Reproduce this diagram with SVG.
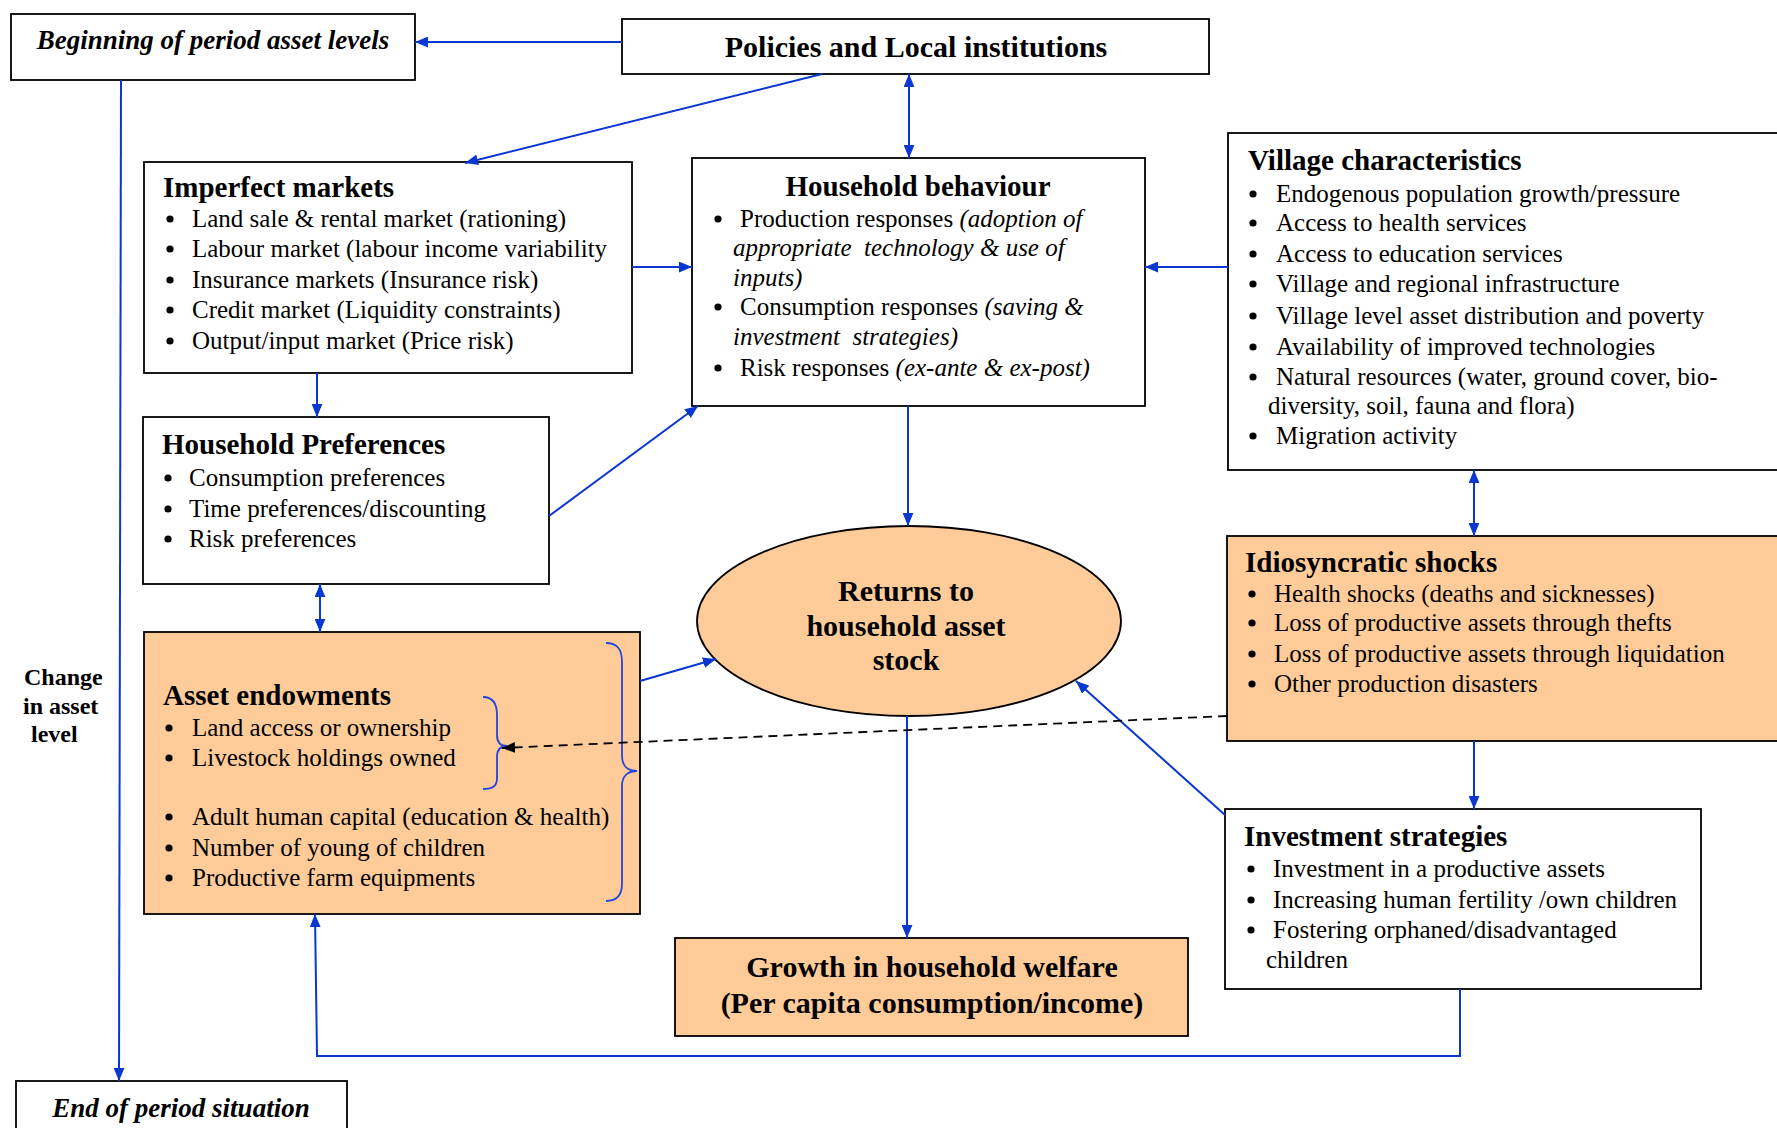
<svg xmlns="http://www.w3.org/2000/svg" width="1777" height="1128" viewBox="0 0 1777 1128">
<style>
.box{fill:#fff;stroke:#000;stroke-width:1.8}
.peach{fill:#FFCC99;stroke:#000;stroke-width:1.8}
.t{font-family:"Liberation Serif","Times New Roman",serif;font-size:25px;fill:#000}
.h{font-family:"Liberation Serif","Times New Roman",serif;font-size:29px;font-weight:bold;fill:#000}
.h30{font-size:30px}
.bi{font-family:"Liberation Serif","Times New Roman",serif;font-size:27px;font-weight:bold;font-style:italic;fill:#000}
.i{font-style:italic}
.pre{white-space:pre}
.d{fill:#000}
.c{stroke:#0A36D2;stroke-width:2;fill:none}
.brace{stroke:#1F46E0;stroke-width:1.8;fill:none}
</style>
<defs>
<marker id="a" viewBox="0 0 12 10" refX="12" refY="5" markerWidth="13" markerHeight="11" markerUnits="userSpaceOnUse" orient="auto-start-reverse">
<path d="M0,0 L12,5 L0,10 z" fill="#0A36D2"/>
</marker>
<marker id="k" viewBox="0 0 12 10" refX="12" refY="5" markerWidth="13" markerHeight="11" markerUnits="userSpaceOnUse" orient="auto">
<path d="M0,0 L12,5 L0,10 z" fill="#000"/>
</marker>
</defs>
<rect width="1777" height="1128" fill="#fff"/>

<g id="beginning">
<rect class="box" x="11" y="14" width="404" height="66"/>
<text class="bi" x="213" y="49" text-anchor="middle">Beginning of period asset levels</text>
</g>

<g id="policies">
<rect class="box" x="622" y="19" width="587" height="55"/>
<text class="h h30" x="916" y="57" text-anchor="middle">Policies and Local institutions</text>
</g>

<g id="imperfect-markets">
<rect class="box" x="144" y="162" width="488" height="211"/>
<text class="h" x="163" y="197">Imperfect markets</text>
<g class="d"><circle cx="170" cy="219" r="3.6"/><circle cx="170" cy="249" r="3.6"/><circle cx="170" cy="280" r="3.6"/><circle cx="170" cy="310" r="3.6"/><circle cx="170" cy="341" r="3.6"/></g>
<text class="t" x="192" y="227">Land sale &amp; rental market (rationing)</text>
<text class="t" x="192" y="257">Labour market (labour income variability</text>
<text class="t" x="192" y="288">Insurance markets (Insurance risk)</text>
<text class="t" x="192" y="318">Credit market (Liquidity constraints)</text>
<text class="t" x="192" y="349">Output/input market (Price risk)</text>
</g>

<g id="household-behaviour">
<rect class="box" x="692" y="158" width="453" height="248"/>
<text class="h" x="918" y="196" text-anchor="middle">Household behaviour</text>
<g class="d"><circle cx="718" cy="219" r="3.6"/><circle cx="718" cy="307" r="3.6"/><circle cx="718" cy="368" r="3.6"/></g>
<text class="t" x="740" y="227">Production responses <tspan class="i">(adoption of</tspan></text>
<text class="t i pre" x="733" y="256" xml:space="preserve">appropriate  technology &amp; use of</text>
<text class="t i" x="733" y="286">inputs)</text>
<text class="t" x="740" y="315">Consumption responses <tspan class="i">(saving &amp;</tspan></text>
<text class="t i pre" x="733" y="345" xml:space="preserve">investment  strategies)</text>
<text class="t" x="740" y="376">Risk responses <tspan class="i">(ex-ante &amp; ex-post)</tspan></text>
</g>

<g id="village-characteristics">
<rect class="box" x="1228" y="133" width="570" height="337"/>
<text class="h" x="1248" y="170">Village characteristics</text>
<g class="d"><circle cx="1253" cy="194" r="3.6"/><circle cx="1253" cy="223" r="3.6"/><circle cx="1253" cy="254" r="3.6"/><circle cx="1253" cy="284" r="3.6"/><circle cx="1253" cy="316" r="3.6"/><circle cx="1253" cy="347" r="3.6"/><circle cx="1253" cy="377" r="3.6"/><circle cx="1253" cy="436" r="3.6"/></g>
<text class="t" x="1276" y="202">Endogenous population growth/pressure</text>
<text class="t" x="1276" y="231">Access to health services</text>
<text class="t" x="1276" y="262">Access to education services</text>
<text class="t" x="1276" y="292">Village and regional infrastructure</text>
<text class="t" x="1276" y="324">Village level asset distribution and poverty</text>
<text class="t" x="1276" y="355">Availability of improved technologies</text>
<text class="t" x="1276" y="385">Natural resources (water, ground cover, bio-</text>
<text class="t" x="1268" y="414">diversity, soil, fauna and flora)</text>
<text class="t" x="1276" y="444">Migration activity</text>
</g>

<g id="household-preferences">
<rect class="box" x="143" y="417" width="406" height="167"/>
<text class="h" x="162" y="454">Household Preferences</text>
<g class="d"><circle cx="168" cy="478" r="3.6"/><circle cx="168" cy="509" r="3.6"/><circle cx="168" cy="539" r="3.6"/></g>
<text class="t" x="189" y="486">Consumption preferences</text>
<text class="t" x="189" y="517">Time preferences/discounting</text>
<text class="t" x="189" y="547">Risk preferences</text>
</g>

<g id="asset-endowments">
<rect class="peach" x="144" y="632" width="496" height="282"/>
<text class="h" x="163" y="705">Asset endowments</text>
<g class="d"><circle cx="169" cy="728" r="3.6"/><circle cx="169" cy="758" r="3.6"/><circle cx="169" cy="817" r="3.6"/><circle cx="169" cy="848" r="3.6"/><circle cx="169" cy="878" r="3.6"/></g>
<text class="t" x="192" y="736">Land access or ownership</text>
<text class="t" x="192" y="766">Livestock holdings owned</text>
<text class="t" x="192" y="825">Adult human capital (education &amp; health)</text>
<text class="t" x="192" y="856">Number of young of children</text>
<text class="t" x="192" y="886">Productive farm equipments</text>
<path class="brace" d="M483,697 C494,697 497,705 497,715 L497,735 C497,742 500,746 507,746 C500,746 497,750 497,757 L497,778 C497,786 493,789 483,789"/>
<path class="brace" d="M606,643 C618,643 622,650 622,662 L622,756 C622,765 627,771 637,771 C627,771 622,777 622,786 L622,884 C622,895 617,901 606,901"/>
</g>

<g id="returns">
<ellipse cx="909" cy="621" rx="212" ry="95" fill="#FFCC99" stroke="#000" stroke-width="1.8"/>
<text class="h h30" x="906" y="601" text-anchor="middle">Returns to</text>
<text class="h h30" x="906" y="636" text-anchor="middle">household asset</text>
<text class="h h30" x="906" y="670" text-anchor="middle">stock</text>
</g>

<g id="idiosyncratic-shocks">
<rect class="peach" x="1227" y="536" width="570" height="205"/>
<text class="h" x="1245" y="572">Idiosyncratic shocks</text>
<g class="d"><circle cx="1252" cy="594" r="3.6"/><circle cx="1252" cy="623" r="3.6"/><circle cx="1252" cy="654" r="3.6"/><circle cx="1252" cy="684" r="3.6"/></g>
<text class="t" x="1274" y="602">Health shocks (deaths and sicknesses)</text>
<text class="t" x="1274" y="631">Loss of productive assets through thefts</text>
<text class="t" x="1274" y="662">Loss of productive assets through liquidation</text>
<text class="t" x="1274" y="692">Other production disasters</text>
</g>

<g id="investment-strategies">
<rect class="box" x="1225" y="809" width="476" height="180"/>
<text class="h" x="1244" y="846">Investment strategies</text>
<g class="d"><circle cx="1251" cy="869" r="3.6"/><circle cx="1251" cy="900" r="3.6"/><circle cx="1251" cy="930" r="3.6"/></g>
<text class="t" x="1273" y="877">Investment in a productive assets</text>
<text class="t" x="1273" y="908">Increasing human fertility /own children</text>
<text class="t" x="1273" y="938">Fostering orphaned/disadvantaged</text>
<text class="t" x="1266" y="968">children</text>
</g>

<g id="growth">
<rect class="peach" x="675" y="938" width="513" height="98"/>
<text class="h h30" x="932" y="977" text-anchor="middle">Growth in household welfare</text>
<text class="h h30" x="932" y="1013" text-anchor="middle">(Per capita consumption/income)</text>
</g>

<g id="end">
<rect class="box" x="16" y="1081" width="331" height="60"/>
<text class="bi" x="181" y="1117" text-anchor="middle">End of period situation</text>
</g>

<g id="change-label">
<text class="h" style="font-size:24px" x="24" y="685">Change</text>
<text class="h" style="font-size:24px" x="23" y="714">in asset</text>
<text class="h" style="font-size:24px" x="31" y="742">level</text>
</g>

<g id="connectors">
<line class="c" x1="622" y1="42" x2="415" y2="42" marker-end="url(#a)"/>
<line class="c" x1="822" y1="74" x2="465" y2="163" marker-end="url(#a)"/>
<line class="c" x1="909" y1="74" x2="909" y2="158" marker-start="url(#a)" marker-end="url(#a)"/>
<line class="c" x1="632" y1="267" x2="692" y2="267" marker-end="url(#a)"/>
<line class="c" x1="1228" y1="267" x2="1145" y2="267" marker-end="url(#a)"/>
<line class="c" x1="317" y1="373" x2="317" y2="417" marker-end="url(#a)"/>
<line class="c" x1="549" y1="516" x2="698" y2="406" marker-end="url(#a)"/>
<line class="c" x1="320" y1="584" x2="320" y2="632" marker-start="url(#a)" marker-end="url(#a)"/>
<line class="c" x1="908" y1="406" x2="908" y2="526" marker-end="url(#a)"/>
<line class="c" x1="1474" y1="470" x2="1474" y2="536" marker-start="url(#a)" marker-end="url(#a)"/>
<line class="c" x1="640" y1="681" x2="716" y2="659" marker-end="url(#a)"/>
<line class="c" x1="907" y1="716" x2="907" y2="938" marker-end="url(#a)"/>
<line class="c" x1="1225" y1="815" x2="1076" y2="681" marker-end="url(#a)"/>
<line class="c" x1="1474" y1="741" x2="1474" y2="809" marker-end="url(#a)"/>
<polyline class="c" points="1460,989 1460,1056 317,1056 315,914" marker-end="url(#a)"/>
<line class="c" x1="121" y1="80" x2="119" y2="1081" stroke="#1414EE" marker-end="url(#a)"/>
<line x1="1227" y1="716" x2="502" y2="748" stroke="#000" stroke-width="1.8" stroke-dasharray="9,6" marker-end="url(#k)"/>
</g>
</svg>
